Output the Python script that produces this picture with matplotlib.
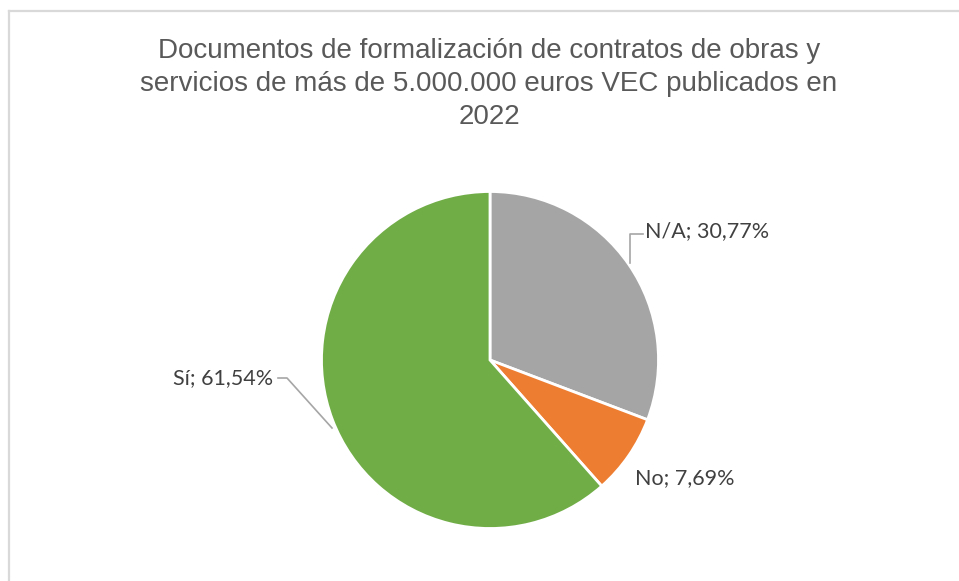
import numpy as np
import matplotlib.pyplot as plt
from matplotlib.lines import Line2D

# data
categories = ["N/A", "No", "Sí"]
shares = [30.77, 7.69, 61.54]
colors = ["#a5a5a5", "#ed7d31", "#70ad47"]
title = ("Documentos de formalización de contratos de obras y\n"
         "servicios de más de 5.000.000 euros VEC publicados en\n"
         "2022")

W, H = 959, 581
cx, cy, r = 490, 360, 168.5   # pie centre / radius in pixels (y from top)

fig = plt.figure(figsize=(W / 100, H / 100), dpi=100)
fig.patch.set_facecolor("white")

# chart frame (top and left edges visible)
frame = dict(color="#d9d9d9", lw=1.6, transform=fig.transFigure)
fig.add_artist(Line2D([9 / W, 1.0], [1 - 11 / H, 1 - 11 / H], **frame))
fig.add_artist(Line2D([9 / W, 9 / W], [1 - 11 / H, 0.0], **frame))

fig.text(489 / W, 1 - 84 / H, title, ha="center", va="center",
         multialignment="center", fontsize=20, color="#595959",
         family="Liberation Sans", linespacing=1.33)

ax = fig.add_axes([(cx - r) / W, (H - cy - r) / H, 2 * r / W, 2 * r / H])
ax.pie(shares, colors=colors, startangle=90, counterclock=False,
       wedgeprops=dict(edgecolor="white", linewidth=2))
ax.set_xlim(-1, 1)
ax.set_ylim(-1, 1)
ax.axis("off")


def px(x, y):
    # pixel position (y from top) -> data coords of the pie axes
    return ((x - cx) / r, (cy - y) / r)


def lab(i):
    return f"{categories[i]}; {shares[i]:.2f}%".replace(".", ",")


lbl = dict(fontsize=15.5, color="#404040", family="Lato", va="center")
lead = dict(color="#a6a6a6", lw=1.2, clip_on=False)

# N/A
ax.text(*px(645, 231), lab(0), ha="left", **lbl)
p = [px(630, 263), px(630, 234), px(643, 234)]
ax.plot([q[0] for q in p], [q[1] for q in p], **lead)

# No
ax.text(*px(635, 478), lab(1), ha="left", **lbl)

# Sí
ax.text(*px(273, 378), lab(2), ha="right", **lbl)
p = [px(278, 378), px(287, 378), px(332, 428)]
ax.plot([q[0] for q in p], [q[1] for q in p], **lead)

plt.savefig("out.png", dpi=100)
